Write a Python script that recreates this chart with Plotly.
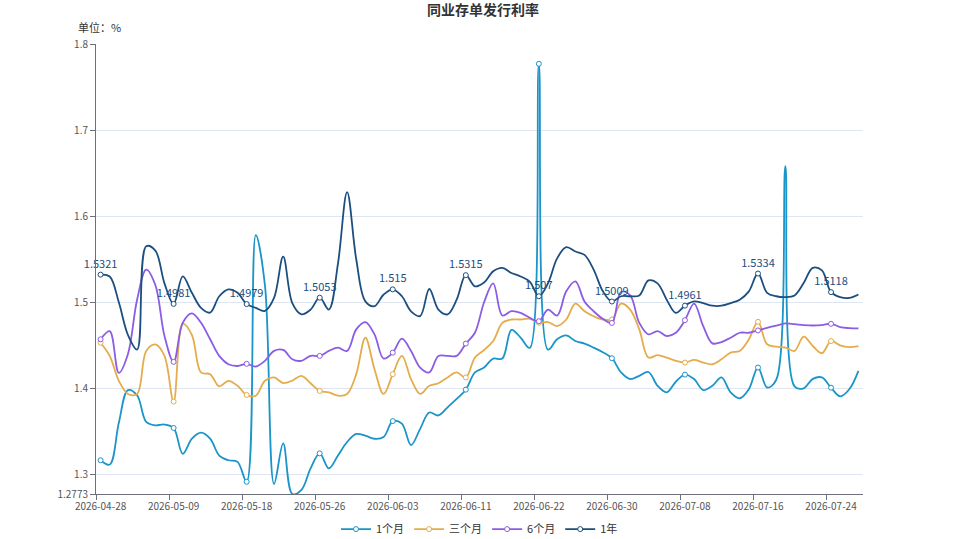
import pandas as pd
import plotly.graph_objects as go

# ---- data ----
skip_dates = ["2026-05-01", "2026-05-02", "2026-05-03", "2026-05-10",
              "2026-06-19", "2026-06-20", "2026-06-21"]
dates = [d.strftime("%Y-%m-%d") for d in pd.date_range("2026-04-28", "2026-07-27")
         if d.strftime("%Y-%m-%d") not in skip_dates]

m1 = [1.3165, 1.3115, 1.360, 1.398, 1.392, 1.361, 1.357, 1.358, 1.354, 1.324,
      1.3415, 1.3485, 1.3415, 1.322, 1.3165, 1.3146, 1.2915, 1.578, 1.52, 1.289,
      1.336, 1.2773, 1.282, 1.307, 1.3245, 1.307, 1.322, 1.3377, 1.347, 1.345,
      1.3415, 1.3435, 1.362, 1.359, 1.334, 1.353, 1.372, 1.3685, 1.378, 1.3877,
      1.3985, 1.4185, 1.4242, 1.4346, 1.4346, 1.468, 1.459, 1.447, 1.777, 1.445,
      1.457, 1.4615, 1.455, 1.452, 1.4473, 1.442, 1.435, 1.4185, 1.4108, 1.4146,
      1.419, 1.403, 1.3954, 1.4077, 1.416, 1.4108, 1.398, 1.403, 1.4127, 1.3954,
      1.3885, 1.399, 1.4242, 1.401, 1.41, 1.658, 1.4023, 1.400, 1.411, 1.4127,
      1.4008, 1.3908, 1.399, 1.4204]

m3 = [1.453, 1.4377, 1.4088, 1.3935, 1.3935, 1.4435, 1.451, 1.4377, 1.3846, 1.475,
      1.462, 1.4185, 1.4165, 1.4023, 1.4088, 1.403, 1.3923, 1.3915, 1.4088, 1.4127,
      1.4062, 1.409, 1.4146, 1.406, 1.397, 1.3954, 1.3915, 1.3935, 1.4165, 1.4588,
      1.4223, 1.3935, 1.4165, 1.4377, 1.4108, 1.3935, 1.403, 1.406, 1.4127, 1.4185,
      1.4127, 1.4358, 1.4446, 1.455, 1.476, 1.48, 1.48, 1.4808, 1.4762, 1.477,
      1.4723, 1.48, 1.4985, 1.4896, 1.4838, 1.48, 1.48, 1.4985, 1.4915, 1.4685,
      1.4358, 1.4385, 1.4358, 1.432, 1.43, 1.433, 1.43, 1.428, 1.4338, 1.4415,
      1.4435, 1.457, 1.4773, 1.4512, 1.4485, 1.4473, 1.4435, 1.46, 1.4492, 1.4408,
      1.455, 1.45, 1.448, 1.4492]

m6 = [1.457, 1.4665, 1.418, 1.44, 1.503, 1.538, 1.52, 1.4608, 1.4308, 1.4762,
      1.487, 1.4762, 1.457, 1.4377, 1.428, 1.426, 1.4285, 1.4254, 1.432, 1.4435,
      1.4446, 1.4338, 1.432, 1.4377, 1.4377, 1.4435, 1.4473, 1.4435, 1.4685, 1.477,
      1.4627, 1.4346, 1.4415, 1.4577, 1.4435, 1.4242, 1.4185, 1.4377, 1.4377, 1.4377,
      1.452, 1.4646, 1.50, 1.522, 1.4846, 1.4896, 1.4877, 1.482, 1.478, 1.4915,
      1.4846, 1.5127, 1.5242, 1.501, 1.4896, 1.4808, 1.476, 1.512, 1.508, 1.476,
      1.4627, 1.4665, 1.4608, 1.4646, 1.4792, 1.4985, 1.4723, 1.4523, 1.4538, 1.4588,
      1.4646, 1.4646, 1.4673, 1.4704, 1.473, 1.4754, 1.4746, 1.4735, 1.473, 1.4735,
      1.475, 1.4712, 1.47, 1.4696]

y1 = [1.5321, 1.530, 1.500, 1.462, 1.445, 1.565, 1.560, 1.522, 1.4981, 1.530,
      1.511, 1.4935, 1.488, 1.507, 1.515, 1.511, 1.4979, 1.4935, 1.490, 1.505,
      1.553, 1.499, 1.486, 1.4915, 1.5053, 1.4915, 1.545, 1.628, 1.550, 1.501,
      1.4955, 1.509, 1.515, 1.507, 1.4895, 1.484, 1.5154, 1.4915, 1.486, 1.503,
      1.5315, 1.5185, 1.523, 1.536, 1.540, 1.534, 1.530, 1.524, 1.507, 1.522,
      1.551, 1.564, 1.559, 1.555, 1.538, 1.513, 1.5009, 1.507, 1.507, 1.508,
      1.5254, 1.522, 1.503, 1.4877, 1.4961, 1.501, 1.499, 1.496, 1.496, 1.499,
      1.503, 1.5127, 1.5334, 1.511, 1.507, 1.506, 1.508, 1.5223, 1.540, 1.537,
      1.5118, 1.506, 1.505, 1.509]

series_names = ["1个月", "三个月", "6个月", "1年"]
series_values = [m1, m3, m6, y1]
colors = ["#1a94c9", "#e5ac4c", "#8b5ce4", "#1c4e7f"]

y_ticks = [1.2773, 1.3, 1.4, 1.5, 1.6, 1.7, 1.8]
y_ticktext = ["1.2773", "1.3", "1.4", "1.5", "1.6", "1.7", "1.8"]

label_step = 8
marked = list(range(0, len(dates), label_step))

FONT = "Noto Sans CJK SC, Noto Sans, sans-serif"

fig = go.Figure()
for name, vals, col in zip(series_names, series_values, colors):
    show_text = name == "1年"
    texts = [str(v) if (i in marked and show_text) else "" for i, v in enumerate(vals)]
    fig.add_trace(go.Scatter(
        x=dates, y=vals, name=name,
        mode="lines+markers+text" if show_text else "lines+markers",
        line=dict(color=col, width=1.8, shape="spline", smoothing=1),
        marker=dict(symbol="circle", size=5, color="white", line=dict(color=col, width=1)),
        text=texts if show_text else None,
        textposition="top center",
        textfont=dict(family=FONT, size=11, color=col),
        selectedpoints=marked,
        selected=dict(marker=dict(opacity=1)),
        unselected=dict(marker=dict(opacity=0)),
        cliponaxis=False,
    ))

fig.update_layout(
    width=959, height=539,
    margin=dict(l=96, r=96, t=44, b=45, autoexpand=False),
    paper_bgcolor="white", plot_bgcolor="white",
    font=dict(family=FONT, size=11, color="#333"),
    title=dict(text="<b>同业存单发行利率</b>", x=0.5036, xref="container", xanchor="center",
               y=1 - 10.5 / 539, yref="container", yanchor="middle",
               font=dict(family=FONT, size=14, color="#333")),
    showlegend=True,
    legend=dict(orientation="h", x=0.5, xanchor="center", y=-0.078, yanchor="middle",
                font=dict(family=FONT, size=11, color="#333"), itemwidth=30,
                bgcolor="rgba(0,0,0,0)"),
    annotations=[dict(text="单位：%", xref="paper", yref="paper", x=-0.026, y=1.037,
                      xanchor="left", yanchor="middle", showarrow=False,
                      font=dict(family=FONT, size=11, color="#333"))],
)

fig.update_xaxes(
    type="category", range=[-0.5, len(dates) - 0.5],
    tickmode="linear", tick0=0, dtick=label_step, tickson="boundaries",
    showline=True, linecolor="#6e7079", linewidth=1,
    ticks="outside", ticklen=5, tickcolor="#6e7079",
    showgrid=False, tickfont=dict(family=FONT, size=10, color="#555"),
    tickangle=0, automargin=False, ticklabelstandoff=3,
)
fig.update_yaxes(
    range=[1.2773, 1.8], tickmode="array", tickvals=y_ticks, ticktext=y_ticktext,
    showline=True, linecolor="#6e7079", linewidth=1,
    ticks="outside", ticklen=5, tickcolor="#6e7079",
    showgrid=True, gridcolor="#e0e6f1", gridwidth=1, zeroline=False,
    tickfont=dict(family=FONT, size=10, color="#555"), automargin=False,
)

fig.write_html("out.html")
